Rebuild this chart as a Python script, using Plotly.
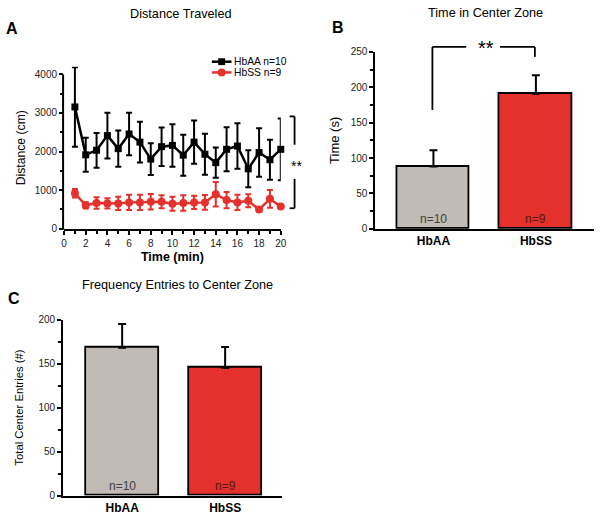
import plotly.graph_objects as go

FONT = "Arial, Liberation Sans, sans-serif"

# ---------------- Data ----------------
minutes = list(range(1, 21))
hbaa_dist = [3156, 1916, 2034, 2414, 2076, 2456, 2245, 1806, 2127, 2160,
             1907, 2245, 1932, 1713, 2059, 2143, 1553, 1975, 1789, 2059]
hbaa_err = [1030, 440, 450, 590, 470, 550, 530, 410, 500, 550,
            530, 560, 530, 390, 570, 590, 480, 630, 520, 800]
hbss_dist = [920, 608, 667, 658, 658, 684, 684, 700, 700, 650,
             667, 684, 684, 895, 743, 684, 726, 498, 776, 574]
hbss_err = [110, 80, 150, 130, 170, 200, 200, 200, 170, 180,
            200, 170, 190, 320, 210, 200, 170, 50, 230, 60]

groups = ["HbAA", "HbSS"]
group_n = ["n=10", "n=9"]
time_center = [88, 191]
time_center_err = [23, 26]
entries = [168, 145]
entries_err = [27, 24]

GREY = "#c1bab5"
RED = "#e5312b"
bar_colors = [GREY, RED]
n_colors = ["#404040", "#5a1512"]

# ---------------- Layout geometry ----------------
W, H = 600, 523
# panel A: 0 at px 228, 4000 at px 70 -> range extended to 4200 so the tallest error bar fits
A_top_px = 228 - (228 - 70) * 4200 / 4000
A_xdom, A_ydom, A_xr, A_yr = [62 / W, 282 / W], [295 / H, (H - A_top_px) / H], [0, 20], [0, 4200]
B_xdom, B_ydom, B_xr, B_yr = [378 / W, 1.0], [295 / H, 476 / H], [-0.567, 1.567], [0, 250]
C_xdom, C_ydom, C_xr, C_yr = [61 / W, 283 / W], [22 / H, 202 / H], [-0.574, 1.55], [0, 200]


def px(v, dom, rng):
    return dom[0] + (v - rng[0]) / (rng[1] - rng[0]) * (dom[1] - dom[0])


fig = go.Figure()

# Panel A lines
fig.add_trace(go.Scatter(
    x=minutes, y=hbaa_dist, mode="lines+markers", name="HbAA n=10",
    line=dict(color="black", width=2.5),
    marker=dict(symbol="square", size=7, color="black"),
    error_y=dict(type="data", array=hbaa_err, color="black", thickness=2, width=3),
    cliponaxis=False, xaxis="x", yaxis="y", showlegend=False))
fig.add_trace(go.Scatter(
    x=minutes, y=hbss_dist, mode="lines+markers", name="HbSS n=9",
    line=dict(color=RED, width=2.5),
    marker=dict(symbol="circle", size=8, color=RED),
    error_y=dict(type="data", array=hbss_err, color=RED, thickness=2, width=3),
    cliponaxis=False, xaxis="x", yaxis="y", showlegend=False))

# Panel B bars
fig.add_trace(go.Bar(
    x=groups, y=time_center, width=0.71,
    marker=dict(color=bar_colors, line=dict(color="black", width=1.8)),
    error_y=dict(type="data", array=time_center_err, arrayminus=[0, 0],
                 color="black", thickness=2, width=4),
    xaxis="x2", yaxis="y2", showlegend=False))

# Panel C bars
fig.add_trace(go.Bar(
    x=groups, y=entries, width=0.71,
    marker=dict(color=bar_colors, line=dict(color="black", width=1.8)),
    error_y=dict(type="data", array=entries_err, arrayminus=[0, 0],
                 color="black", thickness=2, width=4),
    xaxis="x3", yaxis="y3", showlegend=False))

axis_common = dict(showline=True, linecolor="black", linewidth=2, ticks="outside",
                   ticklen=4, tickwidth=1.5, tickcolor="black", showgrid=False,
                   zeroline=False, tickfont=dict(family=FONT, size=10, color="#222"))
cat_axis = {**axis_common, "ticks": "", "tickfont": dict(family=FONT, size=12, color="black")}

fig.update_layout(
    width=W, height=H, margin=dict(l=0, r=0, t=0, b=0),
    paper_bgcolor="white", plot_bgcolor="white",
    font=dict(family=FONT, color="black"),
    bargap=0,
    xaxis=dict(domain=A_xdom, range=A_xr, anchor="y", dtick=2, tick0=0,
               minor=dict(dtick=1, ticks="outside", ticklen=3, tickcolor="black"),
               title=dict(text="<b>Time (min)</b>", font=dict(size=12.5, family=FONT), standoff=4),
               **axis_common),
    yaxis=dict(domain=A_ydom, range=A_yr, anchor="x", tickvals=[0, 1000, 2000, 3000, 4000],
               minor=dict(tickvals=[500, 1500, 2500, 3500], ticks="outside", ticklen=3, tickcolor="black"),
               title=dict(text="Distance (cm)", font=dict(size=12.2, family=FONT), standoff=6),
               **{**axis_common, "showline": False}),
    xaxis2=dict(domain=B_xdom, range=B_xr, anchor="y2", type="category", **cat_axis,
                tickvals=groups, ticktext=["<b>%s</b>" % g for g in groups]),
    yaxis2=dict(domain=B_ydom, range=B_yr, anchor="x2", dtick=50,
                minor=dict(dtick=25, ticks="outside", ticklen=3, tickcolor="black"),
                title=dict(text="Time (s)", font=dict(size=13, family=FONT), standoff=8),
                **axis_common),
    xaxis3=dict(domain=C_xdom, range=C_xr, anchor="y3", type="category", **cat_axis,
                tickvals=groups, ticktext=["<b>%s</b>" % g for g in groups]),
    yaxis3=dict(domain=C_ydom, range=C_yr, anchor="x3", dtick=50,
                minor=dict(dtick=25, ticks="outside", ticklen=3, tickcolor="black"),
                title=dict(text="Total Center Entries (#)", font=dict(size=11.3, family=FONT), standoff=12),
                **axis_common),
)

ann = []
shapes = []


def text(x, y, s, size=12, bold=False, color="black", xanchor="center", yanchor="middle"):
    ann.append(dict(x=x, y=y, xref="paper", yref="paper", text=("<b>%s</b>" % s) if bold else s,
                    showarrow=False, xanchor=xanchor, yanchor=yanchor,
                    font=dict(family=FONT, size=size, color=color)))


def line(x0, y0, x1, y1, color="black", width=1.8):
    shapes.append(dict(type="line", xref="paper", yref="paper", x0=x0, y0=y0, x1=x1, y1=y1,
                       line=dict(color=color, width=width)))


def py(p):  # pixel y (top origin) to paper
    return (H - p) / H


def pxx(p):
    return p / W


# Panel A y-axis line (stops at 4000)
ay = lambda v: px(v, A_ydom, A_yr)
line(A_xdom[0] - 1 / W, ay(0) - 1 / H, A_xdom[0] - 1 / W, ay(4000), "black", 2)

# Titles and panel letters
text(pxx(181), py(8), "Distance Traveled", size=12.7)
text(pxx(490), py(7), "Time in Center Zone", size=12.7)
text(pxx(177), py(286), "Frequency Entries to Center Zone", size=12.7)
text(pxx(9), py(23), "A", size=16, bold=True)
text(pxx(340.5), py(22), "B", size=16, bold=True)
text(pxx(11), py(299), "C", size=16, bold=True)

# Legend for panel A
line(pxx(212), py(57), pxx(232), py(57), "black", 2.5)
shapes.append(dict(type="rect", xref="paper", yref="paper", x0=pxx(218.5), x1=pxx(225.5),
                   y0=py(60.5), y1=py(53.5), fillcolor="black", line=dict(width=0)))
text(pxx(232), py(57), "HbAA n=10", size=10.3, xanchor="left")
line(pxx(212), py(68), pxx(232), py(68), RED, 2.5)
shapes.append(dict(type="circle", xref="paper", yref="paper", x0=pxx(218), x1=pxx(226),
                   y0=py(72), y1=py(64), fillcolor=RED, line=dict(width=0)))
text(pxx(232), py(68), "HbSS n=9", size=10.3, xanchor="left")

# Panel A significance bracket
line(pxx(291), py(113), pxx(296), py(113))
line(pxx(296), py(113), pxx(296), py(142))
line(pxx(296), py(177), pxx(296), py(207))
line(pxx(291), py(207), pxx(296), py(207))
text(pxx(297.5), py(164), "**", size=14)

# Panel B significance bracket (data coords mapped to paper)
bx = lambda v: px(v, B_xdom, B_xr)
by = lambda v: px(v, B_ydom, B_yr)
line(bx(-0.01), by(168), bx(-0.01), by(257))
line(bx(-0.01), by(257), bx(0.32), by(257))
line(bx(0.65), by(257), bx(0.99), by(257))
line(bx(0.99), by(257), bx(0.99), by(243))
text(bx(0.51), by(256), "**", size=20)

# n labels inside bars
cx = lambda v: px(v, C_xdom, C_xr)
cy = lambda v: px(v, C_ydom, C_yr)
for i, (lbl, col) in enumerate(zip(group_n, n_colors)):
    text(bx(i), by(14), lbl, size=12, color=col)
    text(cx(i), cy(11), lbl, size=12, color=col)

fig.update_layout(annotations=ann, shapes=shapes)
fig.write_html("out.html", post_script="document.body.style.margin='0';",
               config={"displayModeBar": False})
